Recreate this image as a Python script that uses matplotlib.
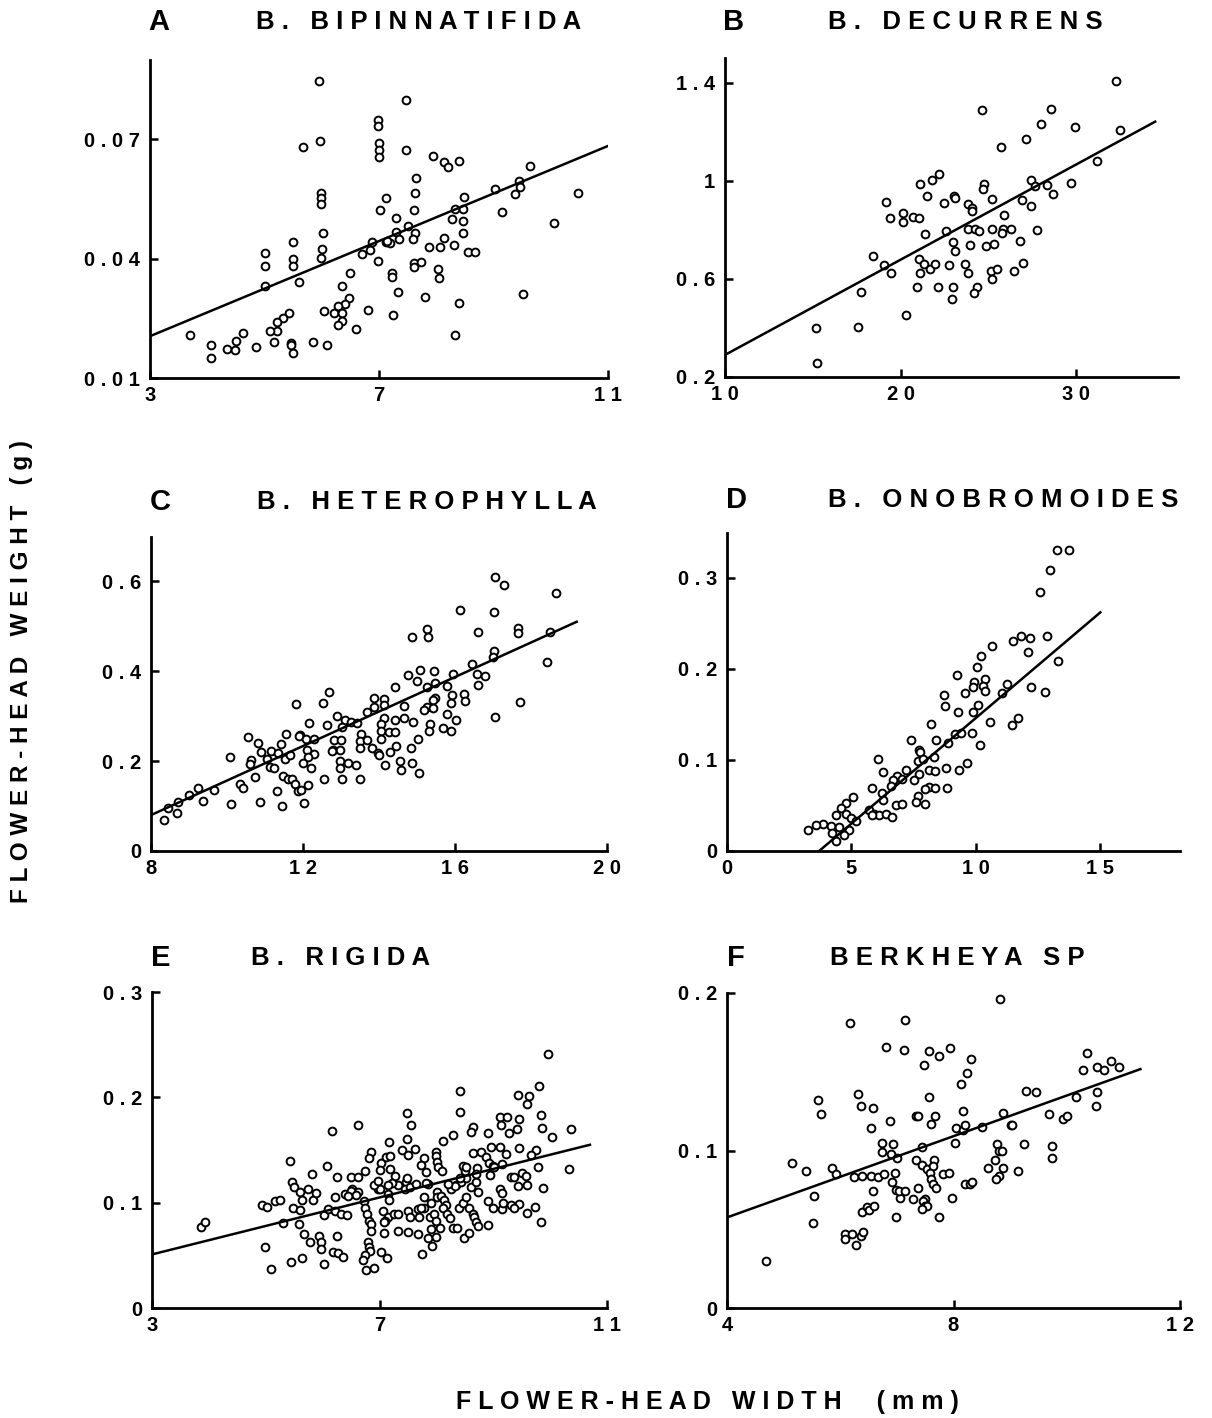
import numpy as np
import matplotlib
matplotlib.use("Agg")
import matplotlib.pyplot as plt

plt.rcParams['font.family'] = ['Liberation Sans', 'DejaVu Sans']
plt.rcParams['font.weight'] = 'bold'

# ---- panel A: B. bipinnatifida ----
a_x = [5.96, 7.48, 6.98, 6.98, 7.0, 7.0, 7.0, 5.97, 5.68, 7.48, 7.95, 8.13, 8.21, 8.40, 9.63, 7.65,
       5.98, 5.98, 5.98, 7.63, 7.13, 9.03, 9.45, 9.47, 9.38, 10.47, 8.49, 7.02, 7.62, 8.33, 8.47, 9.15,
       10.05, 7.30, 8.28, 8.47, 7.51, 6.03, 7.29, 7.63, 8.47, 7.60, 7.35, 6.88, 7.12, 7.19, 5.49, 8.13,
       8.31, 7.88, 8.06, 6.0, 5.99, 6.84, 6.71, 8.55, 8.68, 5.0, 5.50, 5.50, 5.0, 6.99, 7.61, 7.73,
       7.61, 6.49, 7.22, 7.22, 8.03, 8.05, 5.61, 5.0, 6.35, 7.33, 6.48, 6.40, 6.29, 7.81, 8.39, 9.51,
       6.80, 6.04, 6.22, 6.35, 5.42, 5.32, 5.22, 5.22, 5.09, 7.25, 6.36, 6.28, 6.59, 8.33, 3.70, 4.62,
       4.51, 4.35, 4.49, 4.06, 4.06, 4.86, 5.16, 5.46, 5.46, 5.49, 5.85, 6.10, 7.14]
a_y = [0.0845, 0.0799, 0.0749, 0.0732, 0.069, 0.0672, 0.0655, 0.0696, 0.068, 0.0672, 0.0657, 0.0642,
       0.063, 0.0644, 0.0633, 0.0602, 0.0566, 0.0552, 0.0538, 0.0565, 0.0552, 0.0576, 0.0594, 0.0581,
       0.0563, 0.0566, 0.0556, 0.0523, 0.0521, 0.0525, 0.0525, 0.0516, 0.0489, 0.0501, 0.0499, 0.0495,
       0.0481, 0.0464, 0.0467, 0.0465, 0.0465, 0.045, 0.0449, 0.0441, 0.0442, 0.0438, 0.0441, 0.0452,
       0.0435, 0.0428, 0.0428, 0.0423, 0.0401, 0.0421, 0.0412, 0.0417, 0.0417, 0.0413, 0.04, 0.0382,
       0.0381, 0.0395, 0.0389, 0.0392, 0.0378, 0.0363, 0.0364, 0.0354, 0.0375, 0.0352, 0.0342, 0.0331,
       0.0331, 0.0315, 0.0302, 0.0287, 0.0282, 0.0304, 0.0288, 0.031, 0.0272, 0.0268, 0.0264, 0.0264,
       0.0264, 0.0251, 0.024, 0.0219, 0.0219, 0.0258, 0.0243, 0.0232, 0.0224, 0.0208, 0.0209, 0.0212,
       0.0193, 0.0172, 0.017, 0.0182, 0.015, 0.0179, 0.0191, 0.0189, 0.0182, 0.0162, 0.0191, 0.0184,
       0.0443]

# ---- panel B: B. decurrens ----
b_x = [32.25, 24.66, 28.59, 28.02, 29.94, 32.48, 27.16, 25.71, 31.16, 22.16, 21.77, 21.09, 24.75,
       24.71, 27.44, 27.67, 28.34, 29.69, 28.68, 21.51, 23.05, 23.09, 25.23, 26.89, 19.16, 22.48,
       23.85, 24.05, 24.08, 27.42, 20.13, 20.13, 20.73, 21.05, 19.39, 25.88, 21.39, 22.58, 23.85,
       24.24, 24.47, 25.19, 25.82, 26.30, 25.76, 27.77, 22.96, 23.93, 24.87, 25.32, 26.81, 18.42,
       23.11, 21.03, 21.32, 21.66, 21.95, 19.05, 19.45, 21.09, 22.77, 23.66, 23.82, 25.15, 25.48,
       25.19, 26.47, 26.97, 17.73, 20.92, 22.14, 22.98, 22.94, 24.33, 24.18, 20.32, 15.17, 17.56, 15.23]
b_y = [1.405, 1.287, 1.294, 1.229, 1.219, 1.207, 1.169, 1.139, 1.079, 1.026, 1.003, 0.985, 0.986,
       0.966, 1.001, 0.98, 0.982, 0.989, 0.947, 0.939, 0.939, 0.929, 0.925, 0.922, 0.914, 0.909,
       0.907, 0.887, 0.878, 0.895, 0.867, 0.833, 0.853, 0.850, 0.846, 0.860, 0.782, 0.796, 0.803,
       0.805, 0.793, 0.805, 0.803, 0.803, 0.785, 0.801, 0.752, 0.737, 0.732, 0.744, 0.754, 0.694,
       0.712, 0.680, 0.660, 0.639, 0.660, 0.656, 0.623, 0.622, 0.656, 0.660, 0.623, 0.633, 0.642,
       0.601, 0.630, 0.664, 0.548, 0.567, 0.567, 0.567, 0.517, 0.565, 0.544, 0.453, 0.401, 0.404, 0.259]

# ---- panel C: B. heterophylla ----
c_x = [17.06, 17.28, 18.66, 16.13, 17.03, 16.60, 17.66, 17.66, 18.50, 15.25, 15.30, 14.88, 17.03, 17.0,
       18.42, 16.45, 15.07, 15.44, 15.94, 14.76, 14.99, 16.58, 16.78, 16.60, 15.48, 15.78, 15.25, 14.43,
       17.72, 16.23, 16.25, 15.92, 15.89, 15.47, 15.43, 12.68, 12.53, 11.82, 13.88, 14.13, 13.69, 13.88,
       14.65, 14.12, 15.25, 15.19, 15.41, 15.79, 17.06, 12.89, 12.63, 13.11, 13.26, 13.03, 13.42, 12.15,
       14.12, 14.05, 14.04, 14.43, 14.66, 14.9, 15.34, 15.32, 15.69, 15.89, 16.02, 11.93, 10.54, 11.54,
       11.89, 12.09, 12.29, 11.41, 10.81, 12.82, 13.52, 13.49, 14.26, 14.41, 15.03, 14.06, 10.90, 11.16,
       11.34, 13.0, 12.80, 12.97, 12.75, 13.69, 13.50, 13.81, 13.97, 13.99, 14.45, 14.30, 14.85, 12.10,
       12.29, 12.13, 10.08, 10.63, 10.61, 11.53, 11.65, 11.04, 11.12, 11.23, 12.01, 12.22, 12.97, 12.98,
       13.18, 13.40, 14.17, 14.54, 14.57, 14.88, 15.05, 10.73, 12.56, 13.02, 13.50, 11.47, 11.60, 11.72,
       11.80, 11.87, 11.94, 12.13, 11.31, 10.34, 10.42, 9.67, 9.23, 8.99, 9.36, 10.10, 10.86, 11.44,
       12.02, 8.71, 8.46, 8.68, 8.35]
c_y = [0.610, 0.591, 0.573, 0.536, 0.532, 0.487, 0.495, 0.485, 0.487, 0.493, 0.475, 0.476, 0.445, 0.432,
       0.421, 0.415, 0.402, 0.40, 0.393, 0.391, 0.379, 0.393, 0.389, 0.370, 0.374, 0.367, 0.365, 0.365,
       0.332, 0.35, 0.333, 0.347, 0.328, 0.341, 0.336, 0.354, 0.328, 0.326, 0.341, 0.338, 0.309, 0.321,
       0.323, 0.324, 0.321, 0.313, 0.317, 0.304, 0.297, 0.299, 0.281, 0.291, 0.287, 0.275, 0.284, 0.285,
       0.295, 0.282, 0.267, 0.291, 0.295, 0.286, 0.282, 0.267, 0.273, 0.267, 0.291, 0.258, 0.254, 0.261,
       0.256, 0.248, 0.248, 0.238, 0.239, 0.247, 0.261, 0.245, 0.264, 0.264, 0.249, 0.25, 0.221, 0.223,
       0.217, 0.247, 0.224, 0.224, 0.222, 0.247, 0.228, 0.228, 0.217, 0.213, 0.234, 0.221, 0.23, 0.224,
       0.216, 0.210, 0.208, 0.202, 0.193, 0.204, 0.213, 0.204, 0.187, 0.184, 0.196, 0.184, 0.200, 0.185,
       0.196, 0.191, 0.191, 0.200, 0.179, 0.195, 0.174, 0.165, 0.161, 0.159, 0.161, 0.167, 0.161, 0.161,
       0.149, 0.134, 0.136, 0.147, 0.133, 0.148, 0.139, 0.136, 0.141, 0.124, 0.111, 0.104, 0.108, 0.099,
       0.106, 0.108, 0.095, 0.084, 0.070]

# ---- panel D: B. onobromoides ----
d_x = [13.24, 13.74, 12.98, 12.57, 12.86, 11.51, 11.82, 12.17, 12.10, 13.31, 10.66, 10.21, 10.04, 9.25,
       9.91, 9.87, 10.36, 10.29, 10.35, 9.56, 11.23, 12.21, 12.77, 11.05, 8.70, 8.74, 10.07, 9.30, 9.87,
       8.19, 10.58, 11.45, 11.69, 9.16, 9.42, 9.83, 10.15, 8.40, 7.41, 8.86, 7.73, 7.76, 6.06, 8.32, 7.69,
       7.88, 7.18, 6.85, 7.02, 6.27, 8.79, 9.33, 9.64, 8.10, 8.35, 7.72, 7.52, 6.65, 6.60, 8.10, 8.35,
       7.94, 8.85, 7.68, 7.59, 7.96, 6.80, 7.05, 5.84, 6.22, 6.25, 5.71, 5.91, 6.11, 6.38, 6.62, 5.84,
       5.08, 4.77, 4.57, 4.36, 4.77, 4.97, 5.17, 3.87, 4.17, 4.50, 4.91, 4.71, 4.21, 4.37, 3.27, 3.59]
d_y = [0.330, 0.330, 0.308, 0.284, 0.236, 0.230, 0.236, 0.234, 0.218, 0.208, 0.225, 0.214, 0.202, 0.193,
       0.186, 0.180, 0.189, 0.181, 0.176, 0.173, 0.183, 0.180, 0.175, 0.173, 0.171, 0.159, 0.160, 0.153,
       0.153, 0.139, 0.142, 0.138, 0.146, 0.128, 0.130, 0.130, 0.116, 0.122, 0.122, 0.119, 0.111, 0.109,
       0.101, 0.103, 0.099, 0.101, 0.089, 0.082, 0.079, 0.087, 0.091, 0.089, 0.097, 0.089, 0.088, 0.084,
       0.078, 0.078, 0.071, 0.070, 0.069, 0.068, 0.069, 0.060, 0.054, 0.052, 0.050, 0.052, 0.069, 0.064,
       0.056, 0.045, 0.041, 0.040, 0.041, 0.037, 0.039, 0.059, 0.053, 0.047, 0.039, 0.041, 0.036, 0.033,
       0.030, 0.027, 0.026, 0.023, 0.018, 0.020, 0.011, 0.023, 0.029]

# ---- panel E: B. rigida ----
e_x = [9.96, 8.42, 9.80, 9.44, 9.63, 9.59, 8.42, 7.49, 7.56, 6.63, 6.17, 9.11, 9.25, 9.13, 9.45, 9.84,
       9.85, 10.36, 10.04, 9.27, 9.42, 8.65, 8.61, 8.90, 8.30, 8.12, 7.48, 7.16, 8.96, 9.11, 9.45, 9.76,
       9.66, 9.23, 8.65, 8.78, 8.87, 8.93, 8.99, 9.16, 9.78, 10.33, 8.47, 7.99, 7.99, 8.01, 8.02, 8.10,
       7.79, 7.73, 7.82, 7.39, 7.50, 7.62, 6.85, 6.82, 7.02, 7.12, 7.19, 7.0, 7.18, 5.43, 5.81, 6.08,
       6.25, 6.50, 6.62, 6.74, 5.47, 5.50, 5.61, 5.74, 5.63, 5.83, 5.89, 6.21, 6.40, 6.51, 6.62, 6.97,
       7.15, 7.16, 7.27, 7.33, 7.22, 7.47, 7.45, 7.54, 7.64, 7.48, 7.86, 8.01, 8.01, 8.08, 8.14, 8.17,
       8.26, 8.35, 8.43, 8.52, 8.61, 8.70, 8.74, 8.51, 8.52, 9.11, 9.16, 9.31, 9.36, 9.43, 9.60, 9.51,
       9.57, 8.90, 8.99, 9.16, 9.31, 9.45, 9.59, 9.73, 9.84, 9.88, 8.91, 4.94, 5.02, 5.16, 5.25, 5.48,
       5.60, 5.58, 5.30, 3.87, 3.94, 6.02, 6.09, 6.21, 6.33, 6.43, 6.72, 6.75, 6.78, 6.82, 6.85, 7.06,
       7.15, 7.26, 7.32, 7.09, 7.08, 7.50, 7.54, 7.67, 7.78, 7.70, 7.88, 7.96, 7.99, 8.07, 8.11, 8.19,
       8.24, 8.29, 8.37, 8.40, 8.46, 8.52, 8.58, 8.64, 8.67, 8.70, 8.73, 6.85, 7.08, 7.33, 7.50, 7.67,
       7.91, 5.67, 5.77, 5.94, 5.98, 5.98, 6.26, 6.80, 6.82, 6.84, 6.74, 6.71, 6.77, 6.91, 6.18, 6.27,
       6.36, 7.03, 7.13, 7.74, 7.86, 7.92, 7.99, 8.48, 8.57, 4.98, 5.10, 5.45, 5.64, 6.02, 8.71, 8.70,
       8.42, 8.32, 8.20, 7.82, 7.79, 7.91, 7.73, 7.15, 7.0, 6.50, 6.59, 6.44, 6.91, 6.97, 9.36, 9.18,
       8.94, 9.02]
e_y = [0.241, 0.206, 0.211, 0.202, 0.201, 0.194, 0.186, 0.185, 0.174, 0.174, 0.168, 0.181, 0.181, 0.174,
       0.179, 0.183, 0.171, 0.170, 0.162, 0.166, 0.170, 0.172, 0.167, 0.166, 0.164, 0.159, 0.160, 0.158,
       0.153, 0.153, 0.152, 0.150, 0.145, 0.146, 0.147, 0.148, 0.143, 0.138, 0.135, 0.137, 0.134, 0.132,
       0.135, 0.148, 0.144, 0.139, 0.134, 0.130, 0.142, 0.136, 0.129, 0.150, 0.145, 0.151, 0.148, 0.142,
       0.138, 0.143, 0.144, 0.131, 0.132, 0.140, 0.127, 0.135, 0.124, 0.124, 0.124, 0.130, 0.120, 0.115,
       0.110, 0.113, 0.103, 0.103, 0.109, 0.105, 0.108, 0.113, 0.110, 0.113, 0.108, 0.103, 0.125, 0.117,
       0.119, 0.120, 0.113, 0.115, 0.118, 0.123, 0.118, 0.110, 0.105, 0.106, 0.103, 0.098, 0.113, 0.117,
       0.120, 0.123, 0.115, 0.120, 0.110, 0.130, 0.134, 0.113, 0.109, 0.124, 0.124, 0.116, 0.117, 0.128,
       0.125, 0.102, 0.095, 0.094, 0.098, 0.099, 0.090, 0.096, 0.082, 0.114, 0.079, 0.098, 0.096, 0.102,
       0.103, 0.095, 0.093, 0.080, 0.081, 0.077, 0.082, 0.088, 0.094, 0.092, 0.089, 0.088, 0.102, 0.095,
       0.089, 0.083, 0.080, 0.092, 0.086, 0.089, 0.089, 0.083, 0.082, 0.092, 0.086, 0.094, 0.095, 0.086,
       0.086, 0.089, 0.083, 0.076, 0.095, 0.089, 0.085, 0.076, 0.076, 0.095, 0.100, 0.105, 0.095, 0.089,
       0.086, 0.082, 0.078, 0.073, 0.071, 0.073, 0.072, 0.070, 0.075, 0.070, 0.063, 0.068, 0.063, 0.056,
       0.068, 0.063, 0.058, 0.054, 0.050, 0.046, 0.036, 0.038, 0.053, 0.052, 0.048, 0.053, 0.047, 0.051,
       0.066, 0.059, 0.067, 0.066, 0.071, 0.058, 0.037, 0.044, 0.047, 0.042, 0.133, 0.127, 0.123, 0.116,
       0.118, 0.119, 0.105, 0.100, 0.095, 0.117, 0.113, 0.111, 0.107, 0.106, 0.117, 0.121, 0.095, 0.100,
       0.126, 0.134]

# ---- panel F: Berkheya sp ----
f_x = [8.82, 6.18, 7.15, 6.81, 7.13, 7.57, 7.74, 7.93, 7.48, 8.31, 8.24, 8.14, 10.35, 10.28, 10.53,
       10.66, 10.78, 10.93, 10.54, 10.51, 10.16, 9.28, 9.45, 8.88, 9.01, 9.68, 9.94, 10.01, 5.60, 5.66,
       6.31, 6.37, 6.58, 6.55, 6.88, 7.34, 7.38, 7.57, 7.68, 7.60, 8.16, 8.05, 8.16, 8.21, 8.50, 9.04,
       8.03, 9.25, 9.74, 9.74, 8.76, 8.81, 8.85, 8.74, 8.87, 8.81, 8.75, 8.61, 9.14, 6.74, 6.94, 6.74,
       6.89, 7.01, 7.44, 5.15, 5.39, 5.86, 5.92, 6.24, 6.38, 6.54, 6.66, 6.78, 6.97, 6.91, 6.98, 7.06,
       7.03, 7.15, 7.28, 7.38, 7.50, 7.34, 7.44, 7.54, 7.65, 7.64, 7.59, 7.60, 7.64, 7.69, 7.81, 7.92,
       7.97, 7.75, 6.98, 7.46, 7.50, 7.54, 7.45, 6.57, 6.38, 6.47, 6.51, 6.60, 8.21, 8.29, 8.32, 5.53,
       5.52, 6.09, 6.21, 6.09, 6.28, 6.36, 6.41, 4.68]
f_y = [0.196, 0.181, 0.183, 0.166, 0.164, 0.163, 0.160, 0.165, 0.154, 0.158, 0.149, 0.142, 0.162, 0.151,
       0.153, 0.151, 0.157, 0.153, 0.137, 0.128, 0.134, 0.138, 0.137, 0.124, 0.116, 0.123, 0.120, 0.122,
       0.132, 0.123, 0.136, 0.128, 0.127, 0.114, 0.119, 0.122, 0.122, 0.134, 0.122, 0.117, 0.125, 0.114,
       0.113, 0.116, 0.115, 0.116, 0.105, 0.104, 0.103, 0.095, 0.104, 0.100, 0.100, 0.094, 0.089, 0.084,
       0.082, 0.089, 0.087, 0.105, 0.104, 0.099, 0.098, 0.095, 0.102, 0.092, 0.087, 0.089, 0.085, 0.083,
       0.084, 0.084, 0.083, 0.085, 0.086, 0.080, 0.075, 0.070, 0.074, 0.074, 0.069, 0.076, 0.069, 0.094,
       0.091, 0.088, 0.094, 0.090, 0.086, 0.082, 0.079, 0.076, 0.085, 0.086, 0.070, 0.058, 0.058, 0.068,
       0.065, 0.065, 0.063, 0.074, 0.061, 0.064, 0.062, 0.065, 0.079, 0.079, 0.080, 0.071, 0.054, 0.047,
       0.047, 0.044, 0.040, 0.046, 0.048, 0.030]

# regression lines: (slope, intercept, x start, x end)
fits = {
    'A': (0.005975, 0.00258, 3.0, 11.0),
    'B': (0.0388, -0.098, 10.0, 34.5),
    'C': (0.03836, -0.227, 8.0, 19.2),
    'D': (0.02318, -0.0858, 3.7, 15.0),
    'E': (0.01352, 0.0103, 3.0, 10.7),
    'F': (0.0129, 0.0059, 4.0, 11.3),
}

titles = {'A': 'B. BIPINNATIFIDA', 'B': 'B. DECURRENS', 'C': 'B. HETEROPHYLLA',
          'D': 'B. ONOBROMOIDES', 'E': 'B. RIGIDA', 'F': 'BERKHEYA SP'}

xticks = {'A': [3, 7, 11], 'B': [10, 20, 30], 'C': [8, 12, 16, 20],
          'D': [0, 5, 10, 15], 'E': [3, 7, 11], 'F': [4, 8, 12]}
xticklabels = {'A': ['3', '7', '11'], 'B': ['10', '20', '30'], 'C': ['8', '12', '16', '20'],
               'D': ['0', '5', '10', '15'], 'E': ['3', '7', '11'], 'F': ['4', '8', '12']}
yticks = {'A': [0.01, 0.04, 0.07], 'B': [0.2, 0.6, 1.0, 1.4], 'C': [0, 0.2, 0.4, 0.6],
          'D': [0, 0.1, 0.2, 0.3], 'E': [0, 0.1, 0.2, 0.3], 'F': [0, 0.1, 0.2]}
yticklabels = {'A': ['0.01', '0.04', '0.07'], 'B': ['0.2', '0.6', '1', '1.4'],
               'C': ['0', '0.2', '0.4', '0.6'], 'D': ['0', '0.1', '0.2', '0.3'],
               'E': ['0', '0.1', '0.2', '0.3'], 'F': ['0', '0.1', '0.2']}

limits = {'A': ((3, 11), (0.01, 0.0899)), 'B': ((10, 35.8), (0.2, 1.50)),
          'C': ((8, 20), (0, 0.698)), 'D': ((0, 18.2), (0, 0.349)),
          'E': ((3, 11), (0, 0.3)), 'F': ((4, 12), (0, 0.2))}

data = {'A': (a_x, a_y), 'B': (b_x, b_y), 'C': (c_x, c_y),
        'D': (d_x, d_y), 'E': (e_x, e_y), 'F': (f_x, f_y)}

# axes boxes in pixels: left, top, right, bottom ; plus title centre x
W, H = 1212, 1418
boxes = {'A': (150, 60, 608, 378, 419), 'B': (725, 58, 1178, 377, 965),
         'C': (151, 537, 607, 851, 427), 'D': (727, 533, 1180, 851, 1003),
         'E': (152, 992, 607, 1308, 341), 'F': (727, 993, 1180, 1308, 957)}
title_y = {'A': 22, 'B': 22, 'C': 502, 'D': 500, 'E': 958, 'F': 958}


def spaced(s):
    return ' '.join(s)


fig = plt.figure(figsize=(W / 100, H / 100), dpi=100)

for key in ['A', 'B', 'C', 'D', 'E', 'F']:
    l, t, r, b, tx = boxes[key]
    ax = fig.add_axes([l / W, 1 - b / H, (r - l) / W, (b - t) / H])
    x, y = data[key]
    ax.plot(x, y, 'o', mfc='white', mec='black', ms=5.6, mew=1.4, clip_on=False)
    m, c, x0, x1 = fits[key]
    xs = np.array([x0, x1])
    ax.plot(xs, m * xs + c, color='black', lw=1.8)
    ax.set_xlim(*limits[key][0])
    ax.set_ylim(*limits[key][1])
    ax.set_xticks(xticks[key])
    ax.set_xticklabels([spaced(s) for s in xticklabels[key]])
    ax.set_yticks(yticks[key])
    ax.set_yticklabels([spaced(s) for s in yticklabels[key]])
    for side in ['top', 'right']:
        ax.spines[side].set_visible(False)
    for side in ['left', 'bottom']:
        ax.spines[side].set_linewidth(2.0)
    ax.tick_params(axis='x', direction='in', length=6, width=1.8, pad=6, labelsize=14.5)
    ax.tick_params(axis='y', direction='in', length=6, width=1.8, pad=7, labelsize=14.5)
    for lab in ax.get_xticklabels() + ax.get_yticklabels():
        lab.set_fontweight('bold')
    ty = title_y[key]
    fig.text((l + 9) / W, 1 - ty / H, key, ha='center', va='center',
             fontsize=21, fontweight='bold')
    fig.text(tx / W, 1 - ty / H, spaced(titles[key]), ha='center', va='center',
             fontsize=18.5, fontweight='bold')

fig.text(22 / W, 1 - 672 / H, spaced('FLOWER-HEAD WEIGHT') + '   ' + spaced('(g)'), rotation=90,
         ha='center', va='center', fontsize=17.5, fontweight='bold')
fig.text(707 / W, 1 - 1402 / H, spaced('FLOWER-HEAD WIDTH') + '     ' + spaced('(mm)'),
         ha='center', va='center', fontsize=18, fontweight='bold')

fig.savefig('out.png', dpi=100, facecolor='white')
